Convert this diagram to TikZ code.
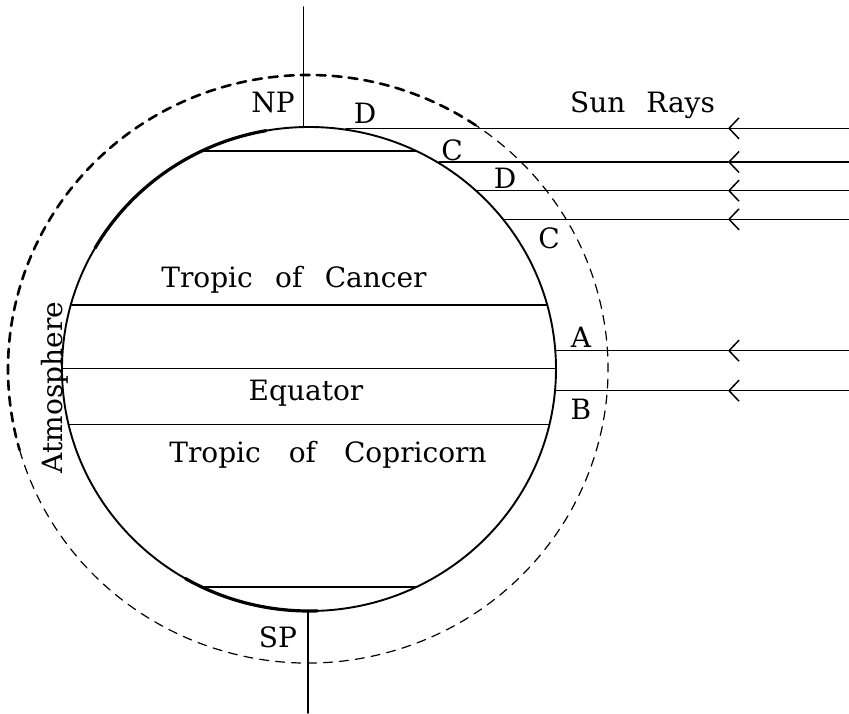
\documentclass[tikz,border=0pt]{standalone}
\usepackage{fontspec}
\setmainfont{DejaVu Serif}
\usetikzlibrary{arrows.meta}
\tikzset{
  lbl/.style={anchor=base,inner sep=0pt,font=\fontsize{28}{32}\selectfont},
  ray/.style={line width=1.5pt},
  raytip/.style={ray,-{Straight Barb[length=10pt,width=21pt,line width=1.5pt]}},
  belt/.style={line width=1.6pt},
  atmos/.style={dash pattern=on 9pt off 7pt,line width=1.2pt}
}
\begin{document}
\begin{tikzpicture}[x=1pt,y=1pt,line join=round,line cap=round]
\useasboundingbox (-309,-344) rectangle (540,369);
% earth
\draw[line width=1.9pt] (0,0) ellipse[x radius=247,y radius=242];
\draw[line width=3.2pt] (100:247 and 242) arc[start angle=100,end angle=150,x radius=247,y radius=242];
\draw[line width=3.2pt] (240:247 and 242) arc[start angle=240,end angle=272,x radius=247,y radius=242];
% atmosphere
\draw[atmos,line width=2.6pt] (-1,0) ++(56:300 and 294) arc[start angle=56,end angle=196,x radius=300,y radius=294];
\draw[atmos] (-1,0) ++(196:300 and 294) arc[start angle=196,end angle=416,x radius=300,y radius=294];
% axis
\draw[belt] (-5.5,242) -- (-5.5,362);
\draw[belt] (-1,-242) -- (-1,-344);
% parallels
\foreach \y in {218,64,0.5,-55.3,-218}
  \draw[belt] ({-247*sqrt(1-(\y/242)^2)},\y) -- ({247*sqrt(1-(\y/242)^2)},\y);
% sun rays
\foreach \n/\sx/\sy in {1/37/240.7,2/130/207,3/168/178.3,4/194/149.7,5/246/18.3,6/246/-21.7}{
  \coordinate (in\n) at (\sx,\sy);
  \coordinate (tip\n) at (419,\sy);
  \coordinate (sun\n) at (540,\sy);
  \draw[raytip] (sun\n) -- (tip\n);
  \draw[ray] (tip\n) -- (in\n);
}
% labels
\node[lbl] (np) at (-36,257) {NP};
\node[lbl] (sp) at (-31,-278) {SP};
\node[lbl] (d1) at (56,246) {D};
\node[lbl] (c1) at (143,209) {C};
\node[lbl] (d2) at (196,181) {D};
\node[lbl] (c2) at (240,121) {C};
\node[lbl] (a) at (272,22) {A};
\node[lbl] (b) at (272,-50) {B};
\node[lbl] (sun) at (333.5,256) {Sun\hspace{0.75em}Rays};
\node[lbl] (cancer) at (-15,82) {Tropic\hspace{0.8em}of\hspace{0.8em}Cancer};
\node[lbl] (equator) at (-3,-31) {Equator};
\node[lbl] (capricorn) at (19,-93) {Tropic\hspace{1em}of\hspace{1em}Copricorn};
\node[lbl,rotate=90] (atm) at (-246,-18.5) {Atmosphere};
\end{tikzpicture}
\end{document}
